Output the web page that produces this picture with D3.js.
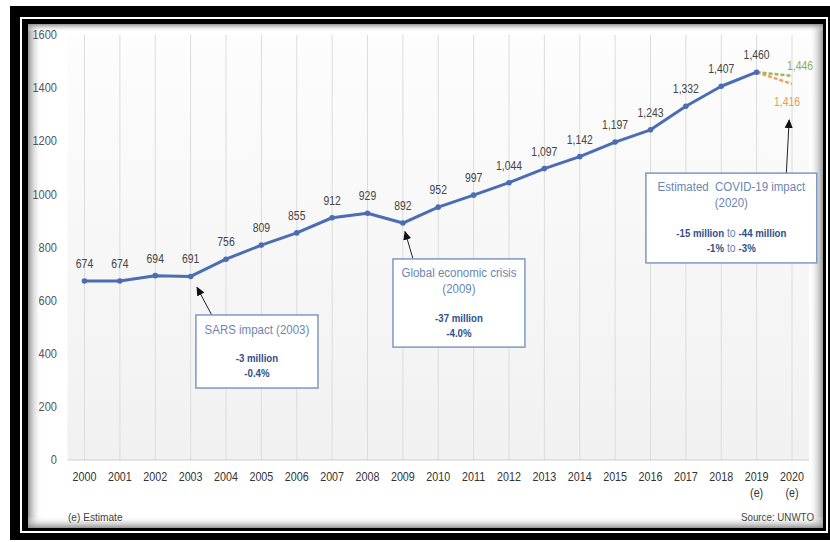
<!DOCTYPE html>
<html lang="en">
<head>
<meta charset="utf-8">
<title>International tourist arrivals 2000-2020</title>
<script src="https://d3js.org/d3.v7.min.js"></script>
<style>
  body { margin: 0; background: #fff; }
  svg text { font-family: "Liberation Sans", Arial, sans-serif; }
</style>
</head>
<body>
<script>
// data (millions of international tourist arrivals)
var years = [2000, 2001, 2002, 2003, 2004, 2005, 2006, 2007, 2008, 2009, 2010,
             2011, 2012, 2013, 2014, 2015, 2016, 2017, 2018, 2019];
var arrivals = [674, 674, 694, 691, 756, 809, 855, 912, 929, 892, 952,
                997, 1044, 1097, 1142, 1197, 1243, 1332, 1407, 1460];
var estYear = 2020;
var estHigh = 1446;
var estLow = 1416;
var yTicks = [0, 200, 400, 600, 800, 1000, 1200, 1400, 1600];
var xLabels = [2000, 2001, 2002, 2003, 2004, 2005, 2006, 2007, 2008, 2009, 2010,
               2011, 2012, 2013, 2014, 2015, 2016, 2017, 2018, 2019, 2020];
var estimateYears = [2019, 2020];

var W = 830, H = 542;
var svg = d3.select("body").append("svg")
    .attr("width", W).attr("height", H);

var x = d3.scaleLinear().domain([2000, 2020]).range([84.5, 792]);
var y = d3.scaleLinear().domain([0, 1600]).range([460, 35]);
var fmt = d3.format(",");

// narrow-font look: squeeze text horizontally
function tf(px, py, sx) {
  return "translate(" + px + "," + py + ") scale(" + sx + ",1)";
}

// frame
svg.append("rect").attr("x", 10).attr("y", 6).attr("width", W - 10).attr("height", 534).attr("fill", "#000");
svg.append("rect").attr("x", 21).attr("y", 18).attr("width", 806).attr("height", 514)
    .attr("fill", "none").attr("stroke", "#fff").attr("stroke-width", 2);

var defs = svg.append("defs");
function grad(id, x1, y1, x2, y2) {
  var g = defs.append("linearGradient").attr("id", id)
      .attr("x1", x1).attr("y1", y1).attr("x2", x2).attr("y2", y2);
  g.append("stop").attr("offset", "0%").attr("stop-color", "#888").attr("stop-opacity", 0.9);
  g.append("stop").attr("offset", "100%").attr("stop-color", "#fff").attr("stop-opacity", 0);
}
grad("shL", "0", "0", "1", "0");
grad("shR", "1", "0", "0", "0");
grad("shT", "0", "0", "0", "1");
grad("shB", "0", "1", "0", "0");
var pg = defs.append("linearGradient").attr("id", "plotBg").attr("x1", 0).attr("y1", 0).attr("x2", 0).attr("y2", 1);
pg.append("stop").attr("offset", "0%").attr("stop-color", "#fdfdfd");
pg.append("stop").attr("offset", "100%").attr("stop-color", "#f1f1f1");

var px0 = 28, py0 = 24, px1 = 823, py1 = 528;
svg.append("rect").attr("x", px0).attr("y", py0).attr("width", px1 - px0).attr("height", py1 - py0).attr("fill", "#fff");
svg.append("rect").attr("x", px0).attr("y", py0).attr("width", 14).attr("height", py1 - py0).attr("fill", "url(#shL)");
svg.append("rect").attr("x", px1 - 14).attr("y", py0).attr("width", 14).attr("height", py1 - py0).attr("fill", "url(#shR)");
svg.append("rect").attr("x", px0).attr("y", py0).attr("width", px1 - px0).attr("height", 8).attr("fill", "url(#shT)");
svg.append("rect").attr("x", px0).attr("y", py1 - 12).attr("width", px1 - px0).attr("height", 12).attr("fill", "url(#shB)");

// plot background
svg.append("rect")
    .attr("x", x(2000) - 17).attr("y", y(1600))
    .attr("width", x(2020) - x(2000) + 34).attr("height", y(0) - y(1600))
    .attr("fill", "url(#plotBg)");

// vertical grid
svg.append("g").selectAll("line").data(xLabels).join("line")
    .attr("x1", d => x(d)).attr("x2", d => x(d))
    .attr("y1", y(1600)).attr("y2", y(0))
    .attr("stroke", "#dcdcdc").attr("stroke-width", 1);
svg.append("line")
    .attr("x1", x(2000) - 17).attr("x2", x(2020) + 17)
    .attr("y1", y(0)).attr("y2", y(0))
    .attr("stroke", "#cfcfcf");

// y axis labels
svg.append("g").selectAll("text").data(yTicks).join("text")
    .attr("transform", d => tf(57, y(d), 0.92)).attr("dy", "0.35em")
    .attr("text-anchor", "end").attr("font-size", 12).attr("fill", "#555")
    .text(d => d);

// x axis labels
svg.append("g").selectAll("text").data(xLabels).join("text")
    .attr("transform", d => tf(x(d), 477, 0.86)).attr("dy", "0.35em")
    .attr("text-anchor", "middle").attr("font-size", 12.5).attr("fill", "#333")
    .text(d => d);
svg.append("g").selectAll("text").data(estimateYears).join("text")
    .attr("transform", d => tf(x(d), 493, 0.86)).attr("dy", "0.35em")
    .attr("text-anchor", "middle").attr("font-size", 12.5).attr("fill", "#333")
    .text("(e)");

// estimate dashed lines
var last = years.length - 1;
svg.append("line")
    .attr("x1", x(years[last])).attr("y1", y(arrivals[last]))
    .attr("x2", x(estYear)).attr("y2", y(estLow))
    .attr("stroke", "#f0a458").attr("stroke-width", 2.5).attr("stroke-dasharray", "4,2");
svg.append("line")
    .attr("x1", x(years[last])).attr("y1", y(arrivals[last]))
    .attr("x2", x(estYear)).attr("y2", y(estHigh))
    .attr("stroke", "#9bbb59").attr("stroke-width", 2.5).attr("stroke-dasharray", "4,2");

// main line
var pts = years.map((d, i) => [d, arrivals[i]]);
svg.append("path")
    .datum(pts)
    .attr("fill", "none").attr("stroke", "#4a6db3").attr("stroke-width", 3)
    .attr("stroke-linejoin", "round")
    .attr("d", d3.line().x(d => x(d[0])).y(d => y(d[1])));
svg.append("g").selectAll("circle").data(pts).join("circle")
    .attr("cx", d => x(d[0])).attr("cy", d => y(d[1])).attr("r", 2.8)
    .attr("fill", "#4a6db3");

// value labels
svg.append("g").selectAll("text").data(pts).join("text")
    .attr("transform", d => tf(x(d[0]), y(d[1]) - 13, 0.8))
    .attr("text-anchor", "middle").attr("font-size", 13).attr("fill", "#444")
    .text(d => fmt(d[1]));
svg.append("text")
    .attr("transform", tf(x(estYear) + 8, y(estHigh) - 6, 0.8))
    .attr("text-anchor", "middle").attr("font-size", 13).attr("fill", "#8db04a")
    .text(fmt(estHigh));
svg.append("text")
    .attr("transform", tf(x(estYear) - 5, y(estLow) + 22, 0.8))
    .attr("text-anchor", "middle").attr("font-size", 13).attr("fill", "#eb9a50")
    .text(fmt(estLow));

// annotations
defs.append("marker").attr("id", "arrow").attr("viewBox", "0 0 10 10")
    .attr("refX", 9).attr("refY", 5).attr("markerWidth", 9).attr("markerHeight", 9)
    .attr("markerUnits", "userSpaceOnUse")
    .attr("orient", "auto")
  .append("path").attr("d", "M0,0.5 L10,5 L0,9.5 z").attr("fill", "#111");

var notes = [
  { x0: 2003.15, x1: 2006.6, v0: 546, v1: 271,
    tail: [2003.6, 545], tip: [2003.18, 650],
    lines: [[["SARS impact (2003)", false]], [], [["-3 million", true]], [["-0.4%", true]]],
    ys: [330, null, 358, 373] },
  { x0: 2008.72, x1: 2012.45, v0: 757, v1: 425,
    tail: [2009.28, 760], tip: [2009.06, 860],
    lines: [[["Global economic crisis", false]], [["(2009)", false]], [["-37 million", true]], [["-4.0%", true]]],
    ys: [273, 289, 318, 333] },
  { x0: 2015.87, x1: 2020.7, v0: 1080, v1: 742,
    tail: [2019.84, 1080], tip: [2019.92, 1280],
    lines: [[["Estimated  COVID-19 impact", false]], [["(2020)", false]],
            [["-15 million", true], [" to ", false], ["-44 million", true]],
            [["-1%", true], [" to ", false], ["-3%", true]]],
    ys: [187, 203, 233, 248] }
];

notes.forEach(function (n) {
  svg.append("line")
      .attr("x1", x(n.tail[0])).attr("y1", y(n.tail[1]))
      .attr("x2", x(n.tip[0])).attr("y2", y(n.tip[1]))
      .attr("stroke", "#222").attr("stroke-width", 1)
      .attr("marker-end", "url(#arrow)");
  svg.append("rect")
      .attr("x", x(n.x0)).attr("y", y(n.v0))
      .attr("width", x(n.x1) - x(n.x0)).attr("height", y(n.v1) - y(n.v0))
      .attr("fill", "#fff").attr("stroke", "#7f98c2").attr("stroke-width", 1.5);
  var cx = (x(n.x0) + x(n.x1)) / 2;
  n.lines.forEach(function (parts, i) {
    if (!parts.length) return;
    var bold = parts.length > 1 || parts[0][1];
    var t = svg.append("text")
        .attr("transform", tf(cx, n.ys[i], bold ? 0.84 : 0.92)).attr("dy", "0.35em")
        .attr("text-anchor", "middle").attr("font-size", 12.5);
    parts.forEach(function (p) {
      t.append("tspan")
          .attr("font-weight", p[1] ? "bold" : "normal")
          .attr("font-size", p[1] ? 11.5 : 12.5)
          .attr("fill", p[1] ? "#2f4f8a" : "#6b86b0")
          .attr("xml:space", "preserve")
          .text(p[0]);
    });
  });
});

// footer
svg.append("text").attr("transform", tf(68, 517, 0.88)).attr("dy", "0.35em")
    .attr("font-size", 11.5).attr("fill", "#444").text("(e) Estimate");
svg.append("text").attr("transform", tf(814, 517, 0.85)).attr("dy", "0.35em")
    .attr("text-anchor", "end").attr("font-size", 11.5).attr("fill", "#444").text("Source: UNWTO");
</script>
</body>
</html>
